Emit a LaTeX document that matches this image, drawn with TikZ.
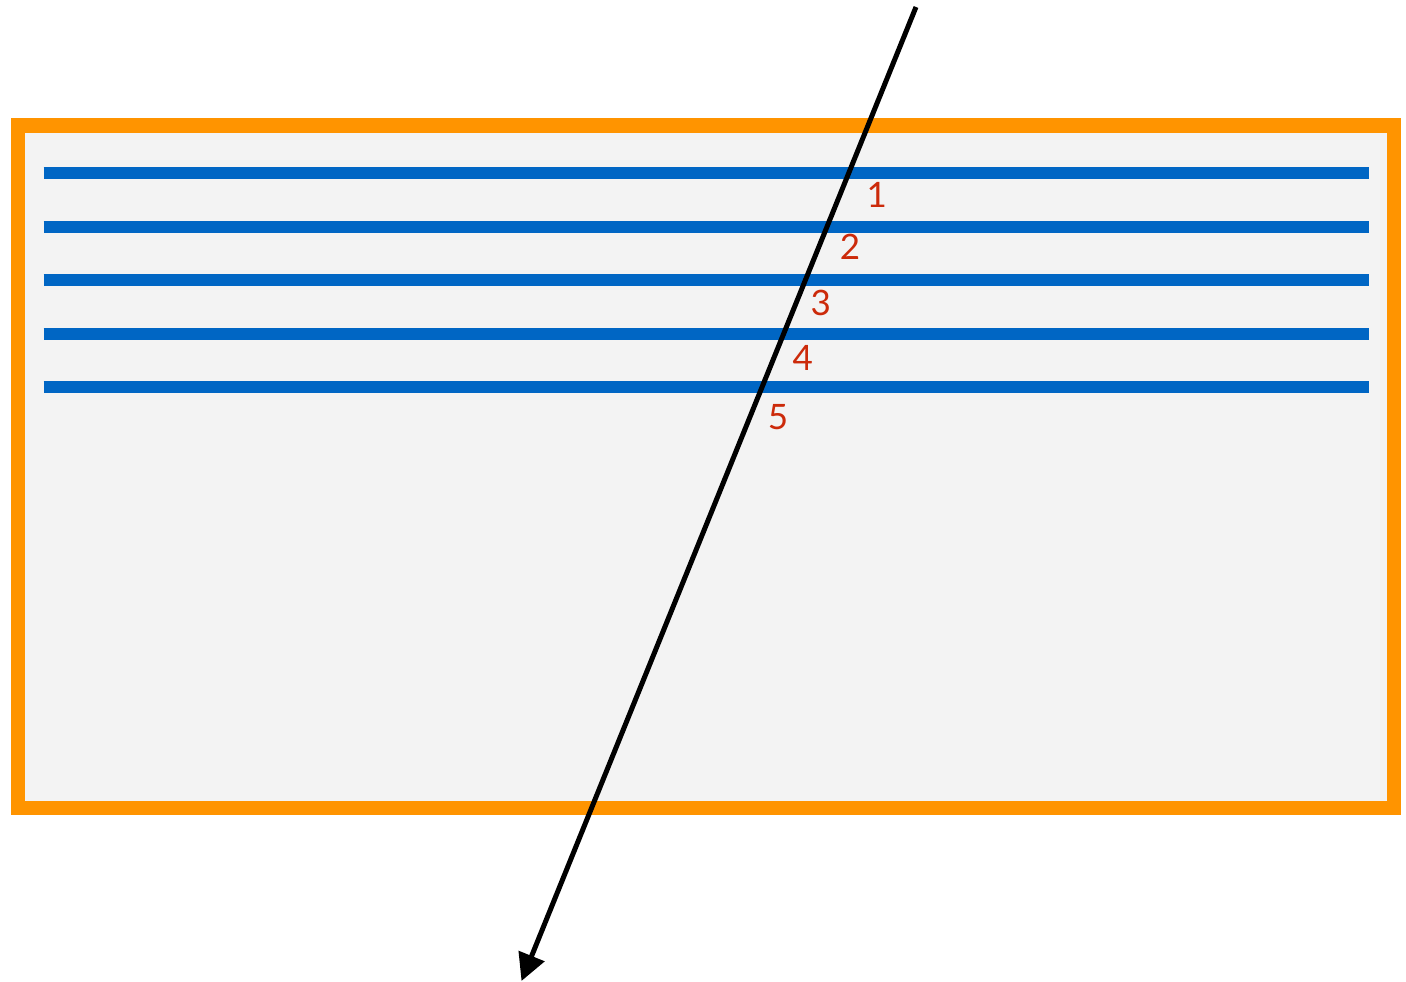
\documentclass[tikz,border=0pt]{standalone}
\usepackage{fontspec}
\setmainfont{Lato}
\usetikzlibrary{arrows.meta}
\definecolor{frameorange}{HTML}{FF9400}
\definecolor{panelgray}{HTML}{F3F3F3}
\definecolor{layerblue}{HTML}{0066C4}
\definecolor{labelred}{HTML}{CC2A0A}
\tikzset{
  frame/.style={draw=frameorange, line width=14.3pt, fill=panelgray},
  layer/.style={draw=layerblue, line width=12pt},
  ray/.style={draw=black, line width=5pt, -{Triangle[length=27pt,width=27pt]}},
  num/.style={text=labelred, font=\fontsize{35}{35}\selectfont, inner sep=0pt}
}
\begin{document}
\begin{tikzpicture}[x=1pt,y=-1pt]
\useasboundingbox (0,0) rectangle (1406,982);
\fill[white] (0,0) rectangle (1406,982);
\draw[frame] (18.3,125.5) rectangle (1394,808);
\foreach \y [count=\i] in {172.7,226.7,280,334,387.3}{
  \coordinate (L\i a) at (43.5,\y);
  \coordinate (L\i b) at (1369,\y);
  \draw[layer] (L\i a) -- (L\i b);
}
\node[num] (n1) at (876.7,195) {1};
\node[num] (n2) at (850,247) {2};
\node[num] (n3) at (820.7,302.7) {3};
\node[num] (n4) at (802.7,358) {4};
\node[num] (n5) at (778,416.7) {5};
\coordinate (rayStart) at (916,7);
\coordinate (rayEnd) at (521.5,981);
\draw[ray] (rayStart) -- (rayEnd);
\end{tikzpicture}
\end{document}
